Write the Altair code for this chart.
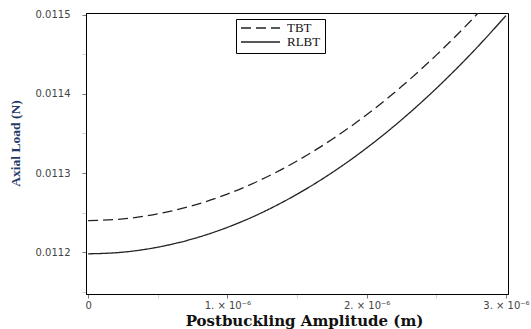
import altair as alt
import pandas as pd

# Postbuckling amplitude (m) and axial load (N) for the two beam theories
amplitude = [0.0, 0.25e-6, 0.5e-6, 0.75e-6, 1.0e-6, 1.25e-6, 1.5e-6,
             1.75e-6, 2.0e-6, 2.25e-6, 2.5e-6, 2.75e-6, 3.0e-6]
tbt = [0.0112400, 0.0112421, 0.0112484, 0.0112588, 0.0112734, 0.0112922, 0.0113152,
       0.0113423, 0.0113736, 0.0114091, 0.0114488, 0.0114926, 0.0115406]
rlbt = [0.0111980, 0.0112001, 0.0112064, 0.0112168, 0.0112314, 0.0112502, 0.0112732,
        0.0113003, 0.0113316, 0.0113671, 0.0114068, 0.0114506, 0.0114986]
series = ["TBT", "RLBT"]

x_ticks = [0.0, 0.5e-6, 1.0e-6, 1.5e-6, 2.0e-6, 2.5e-6, 3.0e-6]
y_ticks = [0.01115, 0.0112, 0.01125, 0.0113, 0.01135, 0.0114, 0.01145, 0.0115]

rows = []
for name, vals in zip(series, [tbt, rlbt]):
    for a, p in zip(amplitude, vals):
        rows.append({"amp": a, "load": p, "theory": name})
df = pd.DataFrame(rows)

minor_x = "abs(datum.value*1e6 - round(datum.value*1e6)) > 0.1"
minor_y = "abs(datum.value*1e4 - round(datum.value*1e4)) > 0.1"

x_axis = alt.Axis(
    values=x_ticks,
    labelExpr=f"({minor_x}) ? '' : (datum.value == 0 ? '0' : format(datum.value*1e6, 'd') + '. × 10⁻⁶')",
    labelFont="DejaVu Sans", labelFontSize=10, labelColor="#444",
    labelPadding=2, labelFlush=False, labelOverlap=False,
    tickSize=4,
    tickColor={"condition": {"test": minor_x, "value": "#cfcfcf"}, "value": "#777"},
    domainColor="#000", grid=False,
    title="Postbuckling Amplitude (m)",
    titleFont="DejaVu Serif", titleFontSize=15, titleFontWeight="bold", titleColor="#111",
    titleX=218, titleY=26, titleAlign="center", titleBaseline="middle",
)

y_axis = alt.Axis(
    values=y_ticks,
    labelExpr=f"({minor_y}) ? '' : format(datum.value, '.4f')",
    labelFont="DejaVu Sans", labelFontSize=10, labelColor="#444",
    labelPadding=12, labelOverlap=False,
    tickSize=4,
    tickColor={"condition": {"test": minor_y, "value": "#cfcfcf"}, "value": "#777"},
    domainColor="#000", grid=False,
    title="Axial Load (N)",
    titleFont="Liberation Serif", titleFontSize=13.5, titleFontWeight="bold", titleColor="#1f3a68",
    titleAngle=-90, titleX=-71, titleY=130, titleAlign="center", titleBaseline="middle",
)

chart = alt.Chart(df).mark_line(
    clip=True, interpolate="monotone", color="#222", strokeWidth=1.3
).encode(
    x=alt.X("amp:Q", scale=alt.Scale(domain=[-0.015e-6, 3.015e-6], nice=False), axis=x_axis),
    y=alt.Y("load:Q", scale=alt.Scale(domain=[0.0111473, 0.011502], nice=False, zero=False), axis=y_axis),
    strokeDash=alt.StrokeDash(
        "theory:N",
        scale=alt.Scale(domain=series, range=[[10, 5], [1, 0]]),
        legend=alt.Legend(
            title=None, orient="none", legendX=150, legendY=6,
            symbolType="stroke", symbolSize=1521, symbolStrokeColor="#222",
            symbolStrokeWidth=1.3,
            labelFont="Liberation Serif", labelFontSize=13, labelColor="#111",
            labelOffset=6, padding=4, rowPadding=1, clipHeight=10,
            strokeColor="#000", fillColor="#fff",
        ),
    ),
    detail="theory:N",
).properties(
    width=422, height=281,
    autosize=alt.AutoSizeParams(type="none"),
    padding={"left": 86, "top": 13, "right": 23, "bottom": 35},
).configure_view(stroke="#000", strokeWidth=1)

chart.save("out.html", embed_options={"renderer": "svg", "actions": False})
